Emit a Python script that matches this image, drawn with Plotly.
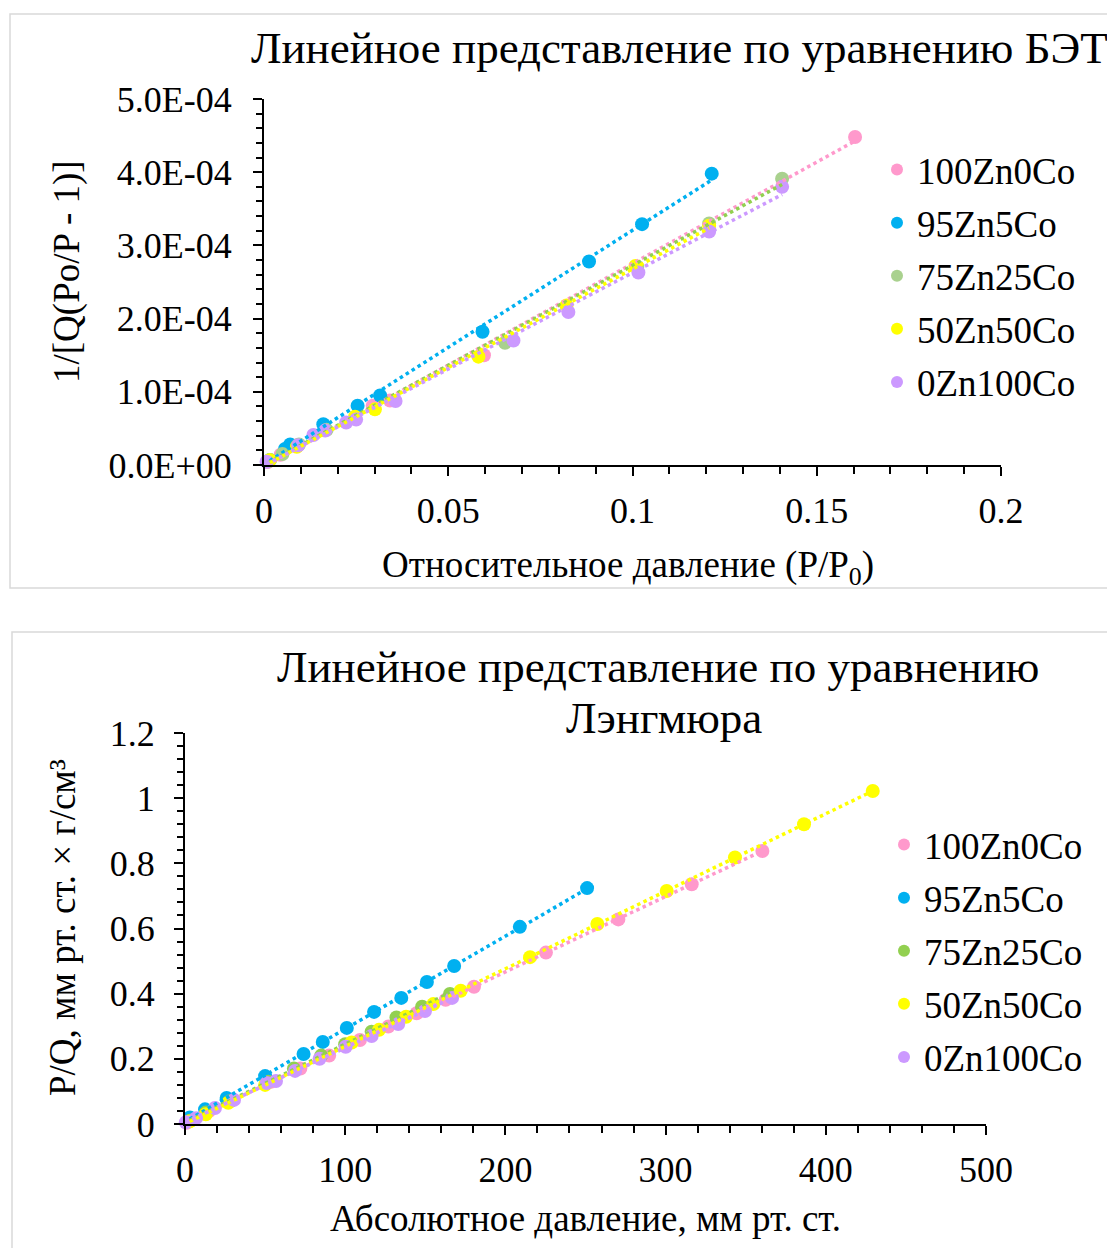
import numpy as np
import plotly.graph_objects as go

W, H = 1107, 1248

# ---------------- data: BET (top) ----------------
series_names = ["100Zn0Co", "95Zn5Co", "75Zn25Co", "50Zn50Co", "0Zn100Co"]

bet_pink_x = [0.0010, 0.0045, 0.0090, 0.0295, 0.0342, 0.0597, 0.1604]
bet_pink_y = [0.04e-4, 0.14e-4, 0.27e-4, 0.81e-4, 0.88e-4, 1.50e-4, 4.48e-4]

bet_blue_x = [0.0016, 0.0057, 0.0071, 0.0161, 0.0254, 0.0315, 0.0593, 0.0882, 0.1026, 0.1215]
bet_blue_y = [0.07e-4, 0.22e-4, 0.28e-4, 0.556e-4, 0.81e-4, 0.95e-4, 1.82e-4, 2.78e-4, 3.29e-4, 3.98e-4]

bet_green_x = [0.0012, 0.0050, 0.0095, 0.0170, 0.0654, 0.1013, 0.1208, 0.1406]
bet_green_y = [0.05e-4, 0.15e-4, 0.28e-4, 0.48e-4, 1.67e-4, 2.71e-4, 3.30e-4, 3.91e-4]

bet_yellow_x = [0.0016, 0.0089, 0.0247, 0.0301, 0.0582, 0.0821, 0.1008, 0.1208]
bet_yellow_y = [0.07e-4, 0.25e-4, 0.66e-4, 0.76e-4, 1.48e-4, 2.18e-4, 2.72e-4, 3.27e-4]

bet_purple_x = [0.0007, 0.0093, 0.0134, 0.0166, 0.0223, 0.0250, 0.0357, 0.0677, 0.0826, 0.1016, 0.1208, 0.1406]
bet_purple_y = [0.045e-4, 0.27e-4, 0.41e-4, 0.47e-4, 0.58e-4, 0.62e-4, 0.874e-4, 1.70e-4, 2.09e-4, 2.63e-4, 3.19e-4, 3.80e-4]

bet_y_tickvals = [0, 1e-4, 2e-4, 3e-4, 4e-4, 5e-4]
bet_y_ticktext = ["0.0E+00", "1.0E-04", "2.0E-04", "3.0E-04", "4.0E-04", "5.0E-04"]
bet_x_tickvals = [0, 0.05, 0.1, 0.15, 0.2]
bet_x_ticktext = ["0", "0.05", "0.1", "0.15", "0.2"]

# ---------------- data: Langmuir (bottom) ----------------
lg_pink_x = [1, 5, 15, 30, 54, 72, 90, 109.2, 126.9, 144.6, 162.7, 180.4, 225.3, 270.5, 316.3, 360.4]
lg_pink_y = [0.004, 0.015, 0.04, 0.075, 0.13, 0.17, 0.21, 0.258, 0.299, 0.340, 0.381, 0.421, 0.526, 0.628, 0.736, 0.838]

lg_blue_x = [3, 12.5, 26, 50, 74, 86, 101, 118, 135, 151, 168, 209, 251]
lg_blue_y = [0.02, 0.045, 0.08, 0.147, 0.215, 0.252, 0.295, 0.344, 0.387, 0.436, 0.485, 0.605, 0.724]

lg_green_x = [3, 13, 28, 52, 68, 85, 100, 116.5, 132, 148, 165.4]
lg_green_y = [0.01, 0.035, 0.07, 0.13, 0.17, 0.21, 0.245, 0.283, 0.327, 0.36, 0.399]

lg_yellow_x = [3, 13, 27, 50, 104, 121.1, 138, 155, 172.1, 215.4, 257.4, 300.7, 343.3, 386.4, 429.3]
lg_yellow_y = [0.008, 0.03, 0.065, 0.12, 0.250, 0.289, 0.329, 0.368, 0.409, 0.512, 0.614, 0.715, 0.818, 0.920, 1.022]

lg_purple_x = [0.5, 6.9, 18.7, 30.6, 51, 56.8, 68.7, 84, 100.3, 116.5, 133.1, 149.8, 166.7]
lg_purple_y = [0.005, 0.018, 0.049, 0.074, 0.126, 0.132, 0.163, 0.200, 0.237, 0.270, 0.307, 0.347, 0.387]

lg_y_tickvals = [0, 0.2, 0.4, 0.6, 0.8, 1.0, 1.2]
lg_y_ticktext = ["0", "0.2", "0.4", "0.6", "0.8", "1", "1.2"]
lg_x_tickvals = [0, 100, 200, 300, 400, 500]
lg_x_ticktext = ["0", "100", "200", "300", "400", "500"]

# ---------------- styles ----------------
FONT = "Liberation Serif, Times New Roman, serif"
top_marker_colors = ["#FF99CC", "#00B0F0", "#A9D18E", "#FFFF00", "#CC99FF"]
top_line_colors = ["#FF99CC", "#00B0F0", "#92D050", "#FFFF00", "#CC99FF"]
bot_marker_colors = ["#FF99CC", "#00B0F0", "#92D050", "#FFFF00", "#CC99FF"]
bot_line_colors = ["#FF99CC", "#00B0F0", "#92D050", "#FFFF00", "#CC99FF"]

top_sets = [(bet_pink_x, bet_pink_y), (bet_blue_x, bet_blue_y), (bet_green_x, bet_green_y),
            (bet_yellow_x, bet_yellow_y), (bet_purple_x, bet_purple_y)]
bot_sets = [(lg_pink_x, lg_pink_y), (lg_blue_x, lg_blue_y), (lg_green_x, lg_green_y),
            (lg_yellow_x, lg_yellow_y), (lg_purple_x, lg_purple_y)]

fig = go.Figure()


def px_x(p):
    return p / W


def px_y(p):
    return 1 - p / H


def add_panel(sets, mcolors, lcolors, xa, ya, legend, msize):
    for i, (xs, ys) in enumerate(sets):
        fig.add_trace(go.Scatter(
            x=xs, y=ys, mode="markers", name=series_names[i],
            marker=dict(color=mcolors[i], size=msize, line=dict(width=0)),
            xaxis=xa, yaxis=ya, legend=legend, legendgroup=legend + str(i),
            cliponaxis=False, showlegend=True))
    for i, (xs, ys) in enumerate(sets):
        xs_a = np.array(xs, dtype=float)
        ys_a = np.array(ys, dtype=float)
        k, b = np.polyfit(xs_a, ys_a, 1)
        lx = np.array([xs_a.min(), xs_a.max()])
        fig.add_trace(go.Scatter(
            x=lx, y=k * lx + b, mode="lines",
            line=dict(color=lcolors[i], width=3.5, dash="dot"),
            xaxis=xa, yaxis=ya, showlegend=False, hoverinfo="skip", cliponaxis=False))


add_panel(top_sets, top_marker_colors, top_line_colors, "x", "y", "legend", 14)
add_panel(bot_sets, bot_marker_colors, bot_line_colors, "x2", "y2", "legend2", 14)

TICKFONT = dict(family=FONT, size=36, color="black")
axis_common = dict(showgrid=False, zeroline=False, showline=True, linecolor="black", linewidth=2,
                   ticks="outside", tickcolor="black", tickwidth=2, ticklen=9,
                   automargin=False, tickfont=TICKFONT)


def minor(dt, ln):
    return dict(tickmode="linear", tick0=0, dtick=dt, ticks="outside", ticklen=ln,
                tickcolor="black", tickwidth=2, showgrid=False)


LEGFONT = dict(family=FONT, size=37, color="black")
TITLEFONT = dict(family=FONT, size=45, color="black")
AXTFONT = dict(family=FONT, size=37, color="black")

fig.update_layout(
    template="none",
    width=W, height=H,
    margin=dict(l=0, r=0, t=0, b=0, pad=0, autoexpand=False),
    paper_bgcolor="white", plot_bgcolor="white",
    showlegend=True,
    xaxis=dict(axis_common, domain=[px_x(264), px_x(1001)], range=[0, 0.2], anchor="y",
               tickmode="array", tickvals=bet_x_tickvals, ticktext=bet_x_ticktext,
               ticklabelstandoff=4, minor=minor(0.01, 7)),
    yaxis=dict(axis_common, domain=[px_y(465), px_y(99)], range=[0, 5e-4], anchor="x",
               tickmode="array", tickvals=bet_y_tickvals, ticktext=bet_y_ticktext,
               ticklabelstandoff=14, minor=minor(2e-5, 6)),
    xaxis2=dict(axis_common, domain=[px_x(185), px_x(986)], range=[0, 500], anchor="y2",
                tickmode="array", tickvals=lg_x_tickvals, ticktext=lg_x_ticktext,
                ticklabelstandoff=4, minor=minor(20, 7)),
    yaxis2=dict(axis_common, domain=[px_y(1124), px_y(733)], range=[0, 1.2], anchor="x2",
                tickmode="array", tickvals=lg_y_tickvals, ticktext=lg_y_ticktext,
                ticklabelstandoff=12, minor=minor(0.04, 6)),
    legend=dict(x=px_x(877), y=px_y(139), xanchor="left", yanchor="top",
                font=LEGFONT, bgcolor="rgba(0,0,0,0)", borderwidth=0,
                tracegroupgap=2, itemsizing="constant"),
    legend2=dict(x=px_x(884), y=px_y(814), xanchor="left", yanchor="top",
                 font=LEGFONT, bgcolor="rgba(0,0,0,0)", borderwidth=0,
                 tracegroupgap=2, itemsizing="constant"),
    shapes=[
        dict(type="rect", xref="paper", yref="paper", x0=px_x(10), x1=1.2, y0=px_y(588), y1=px_y(14),
             line=dict(color="#D9D9D9", width=1.5), fillcolor="rgba(0,0,0,0)", layer="below"),
        dict(type="rect", xref="paper", yref="paper", x0=px_x(12), x1=1.2, y0=-0.2, y1=px_y(632),
             line=dict(color="#D9D9D9", width=1.5), fillcolor="rgba(0,0,0,0)", layer="below"),
    ],
    annotations=[
        dict(text="Линейное представление по уравнению БЭТ", xref="paper", yref="paper",
             x=px_x(679), y=px_y(48), xanchor="center", yanchor="middle", showarrow=False,
             font=TITLEFONT),
        dict(text="Линейное представление по уравнению", xref="paper", yref="paper",
             x=px_x(658), y=px_y(667), xanchor="center", yanchor="middle", showarrow=False,
             font=TITLEFONT),
        dict(text="Лэнгмюра", xref="paper", yref="paper",
             x=px_x(664), y=px_y(718), xanchor="center", yanchor="middle", showarrow=False,
             font=TITLEFONT),
        dict(text="Относительное давление (P/P<sub>0</sub>)", xref="paper", yref="paper",
             x=px_x(628), y=px_y(568), xanchor="center", yanchor="middle", showarrow=False,
             font=AXTFONT),
        dict(text="1/[Q(Po/P - 1)]", xref="paper", yref="paper", textangle=-90,
             x=px_x(67), y=px_y(272), xanchor="center", yanchor="middle", showarrow=False,
             font=AXTFONT),
        dict(text="Абсолютное давление, мм рт. ст.", xref="paper", yref="paper",
             x=px_x(585), y=px_y(1218), xanchor="center", yanchor="middle", showarrow=False,
             font=AXTFONT),
        dict(text="P/Q, мм рт. ст. × г/см³", xref="paper", yref="paper", textangle=-90,
             x=px_x(62), y=px_y(928), xanchor="center", yanchor="middle", showarrow=False,
             font=AXTFONT),
    ],
)

fig.write_html("out.html")
